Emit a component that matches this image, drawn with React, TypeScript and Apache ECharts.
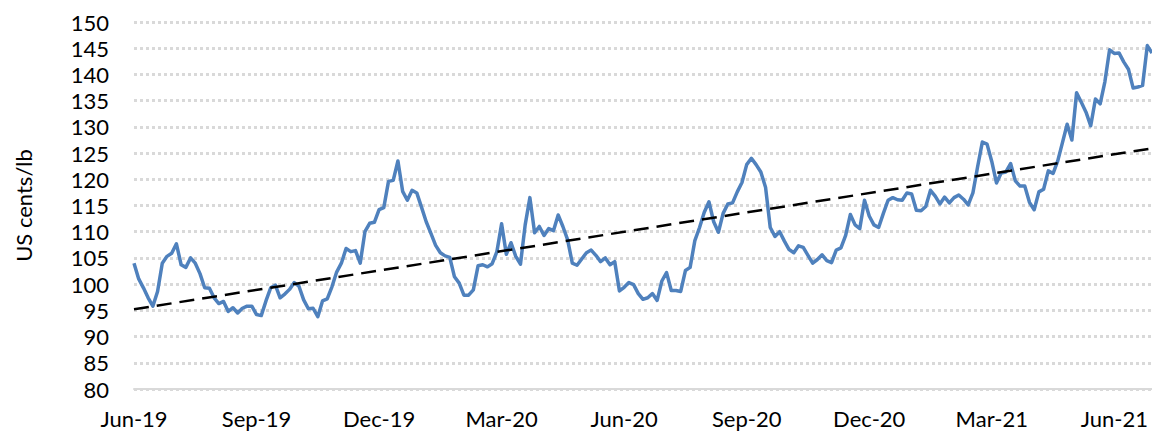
import React, { useEffect, useRef } from "react";
import * as echarts from "echarts";

// Tick labels (one every quarter = 26 half-week steps)
const tickLabels = ["Jun-19", "Sep-19", "Dec-19", "Mar-20", "Jun-20", "Sep-20", "Dec-20", "Mar-21", "Jun-21"];
const stepsPerTick = 26;

// Price, US cents/lb, half-weekly readings from Jun-19 onwards
const prices2019 = [
  104.0, 101.0, 99.3, 97.4, 95.8, 98.6, 104.0, 105.3, 105.9, 107.7,
  103.7, 103.2, 105.0, 104.0, 102.0, 99.3, 99.2, 97.4, 96.3, 96.7,
  94.8, 95.5, 94.5, 95.4, 95.8, 95.8, 94.2, 94.0, 96.8, 99.3,
  99.8, 97.4, 98.1, 99.0, 100.3, 99.6, 97.0, 95.3, 95.4, 93.8,
  96.8, 97.2, 99.5, 102.3, 104.0, 106.8, 106.2, 106.4, 104.0, 110.0,
  111.6, 111.8, 114.2, 114.6, 119.6, 119.8, 123.5, 117.7, 116.0, 117.9,
];
const prices2020a = [
  117.4, 114.7, 111.9, 109.7, 107.4, 106.0, 105.4, 105.1, 101.4, 100.2,
  97.9, 97.9, 98.9, 103.5, 103.7, 103.3, 103.9, 106.2, 111.5, 105.7,
  107.9, 105.3, 103.8, 111.3, 116.5, 109.8, 111.0, 109.3, 110.6, 110.2,
  113.2, 111.0, 108.5, 104.0, 103.6, 104.8, 106.0, 106.5, 105.5, 104.3,
  105.0, 103.7, 104.3, 98.7, 99.4, 100.3, 99.9, 98.2, 97.1, 97.4,
  98.2, 96.9, 100.6, 102.2, 98.8, 98.8, 98.6, 102.6, 103.2, 108.3,
];
const prices2020b = [
  110.8, 113.7, 115.7, 111.9, 109.9, 113.5, 115.3, 115.5, 117.6, 119.4,
  122.8, 124.0, 122.8, 121.4, 118.5, 110.8, 109.1, 110.0, 108.2, 106.6,
  106.0, 107.3, 107.0, 105.5, 104.0, 104.7, 105.6, 104.5, 104.1, 106.5,
  106.9, 109.3, 113.3, 111.3, 110.6, 116.0, 113.0, 111.3, 110.8, 113.5,
  116.0, 116.5, 116.1, 116.0, 117.4, 117.2, 114.1, 114.0, 114.8, 117.9,
  116.8, 115.3, 116.6, 115.5, 116.5, 117.0, 116.2, 115.1, 117.4, 122.4,
];
const prices2021 = [
  127.1, 126.7, 123.4, 119.3, 121.2, 121.4, 123.0, 119.7, 118.7, 118.7,
  115.6, 114.2, 117.6, 118.1, 121.6, 121.1, 123.5, 127.0, 130.5, 127.5,
  136.5, 134.7, 132.8, 130.2, 135.3, 134.4, 138.6, 144.7, 144.0, 144.1,
  142.4, 141.0, 137.4, 137.6, 137.9, 145.5, 144.1,
];
const prices = [...prices2019, ...prices2020a, ...prices2020b, ...prices2021];

// Linear trend line end values
const trendStart = 95.2;
const trendEnd = 125.9;

const yMin = 80;
const yMax = 150;
const yStep = 5;

const FONT = "Lato, 'Noto Sans', sans-serif";

export default function App() {
  const ref = useRef<HTMLDivElement>(null);

  useEffect(() => {
    if (!ref.current) return;
    const chart = echarts.init(ref.current, null, { renderer: "svg" });
    const last = prices.length - 1;
    chart.setOption({
      animation: false,
      backgroundColor: "#ffffff",
      grid: { left: 134, right: 0, top: 22, bottom: 47 },
      xAxis: {
        type: "value",
        min: 0,
        max: last,
        interval: stepsPerTick,
        axisLine: { show: true, lineStyle: { color: "#d9d9d9", width: 2 } },
        axisTick: { show: false },
        splitLine: { show: false },
        axisLabel: {
          showMaxLabel: false,
          color: "#000000",
          fontFamily: FONT,
          fontSize: 22,
          margin: 18,
          formatter: (v: number) => (v % stepsPerTick === 0 ? tickLabels[v / stepsPerTick] ?? "" : ""),
        },
      },
      yAxis: {
        type: "value",
        min: yMin,
        max: yMax,
        interval: yStep,
        name: "US cents/lb",
        nameLocation: "middle",
        nameGap: 100,
        nameTextStyle: { color: "#000000", fontFamily: FONT, fontSize: 22 },
        axisLine: { show: false },
        axisTick: { show: false },
        axisLabel: { color: "#000000", fontFamily: FONT, fontSize: 22, margin: 25 },
        splitLine: { show: true, lineStyle: { color: "#d9d9d9", width: 3, type: [3, 3] } },
      },
      series: [
        {
          type: "line",
          data: prices.map((v, i) => [i, v]),
          showSymbol: false,
          symbol: "none",
          lineStyle: { color: "#4F81BD", width: 3.5, join: "round" },
          z: 2,
        },
        {
          type: "line",
          data: [[0, trendStart], [last, trendEnd]],
          showSymbol: false,
          symbol: "none",
          lineStyle: { color: "#000000", width: 2.5, type: [15, 8] },
          z: 3,
        },
      ],
    });
    return () => chart.dispose();
  }, []);

  return (
    <div
      ref={ref}
      style={{ position: "fixed", left: 0, top: 0, width: 1152, height: 436, background: "#fff" }}
    />
  );
}
